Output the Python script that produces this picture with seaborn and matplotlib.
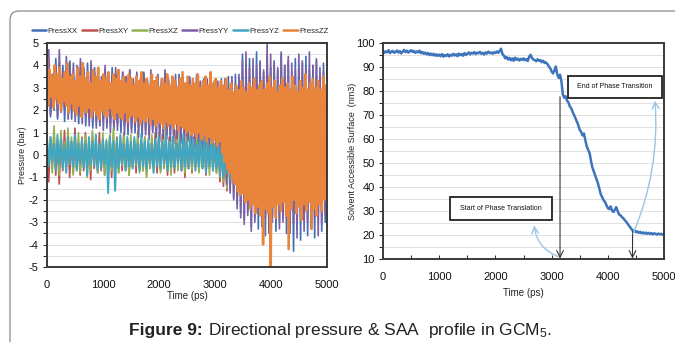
import numpy as np
import pandas as pd
import matplotlib
matplotlib.use("Agg")
import matplotlib.pyplot as plt
import seaborn as sns
from matplotlib.patches import FancyBboxPatch, Rectangle
from matplotlib.lines import Line2D
from matplotlib.ticker import MultipleLocator
from matplotlib.transforms import IdentityTransform

# ---------------- data ----------------
series_names = ["PressXX", "PressXY", "PressXZ", "PressYY", "PressYZ", "PressZZ"]
series_colors = ["#3f6fb6", "#c0504d", "#8db353", "#7b5ea3", "#40a6c2", "#e8843c"]

press_xx = [2.4, 4.1, 1.7, 3.6, 2.0, 4.3, 1.6, 3.8, 2.1, 4.0,
            1.5, 3.7, 1.9, 4.2, 1.6, 3.5, 1.8, 4.0, 1.4, 3.8,
            1.7, 3.6, 1.3, 4.1, 1.6, 3.4, 1.2, 3.9, 1.5, 3.7,
            1.3, 3.5, 1.6, 3.8, 1.2, 3.3, 1.4, 3.9, 1.1, 3.6,
            1.4, 3.4, 1.0, 3.7, 1.3, 3.5, 0.9, 3.8, 1.2, 3.3,
            1.0, 3.6, 1.2, 3.4, 0.8, 3.7, 1.1, 3.3, 0.9, 3.5,
            1.1, 3.2, 0.8, 3.6, 1.0, 3.4, 0.7, 3.8, 0.9, 3.3,
            0.6, 3.5, 0.9, 3.2, 0.7, 3.6, 0.5, 3.4, 0.8, 3.1,
            0.6, 3.5, 0.4, 3.3, 0.7, 3.6, 0.3, 3.2, 0.5, 3.4,
            0.2, 3.1, 0.4, 3.5, 0.0, 3.3, 0.2, 3.0, -0.3, 3.4,
            -0.7, 3.2, -1.1, 3.5, -1.5, 3.3, -1.9, 3.6, -2.2, 3.4,
            -2.6, 4.5, -2.9, 3.8, -2.5, 4.3, -3.2, 3.9, -2.8, 4.6,
            -3.3, 4.1, -2.9, 3.7, -3.6, 4.4, -3.1, 3.9, -2.7, 4.2,
            -3.4, 3.8, -3.0, 4.5, -2.8, 4.0, -3.5, 4.2, -3.1, 3.7,
            -4.3, 4.3, -3.3, 3.9, -3.8, 4.1, -2.9, 4.4, -3.6, 3.8,
            -3.2, 4.0, -3.7, 4.2, -2.9, 3.6, -3.4, 4.1, -3.0, 3.8]
press_yy = [2.0, 4.7, 1.8, 3.5, 2.2, 4.0, 1.7, 4.7, 1.9, 3.7,
            2.1, 4.4, 1.6, 3.8, 2.0, 4.1, 1.5, 3.6, 1.8, 4.3,
            1.4, 3.9, 1.7, 3.5, 1.3, 4.2, 1.6, 3.7, 1.2, 3.8,
            1.5, 3.4, 1.1, 4.0, 1.4, 3.6, 1.0, 3.5, 1.3, 3.9,
            1.1, 3.3, 1.4, 3.7, 0.9, 3.5, 1.2, 3.8, 1.0, 3.4,
            1.3, 3.7, 0.8, 3.3, 1.1, 3.6, 0.9, 3.4, 0.7, 3.8,
            1.0, 3.3, 0.8, 3.5, 0.6, 3.2, 0.9, 3.7, 0.7, 3.4,
            0.9, 3.1, 0.5, 3.6, 0.8, 3.3, 0.6, 3.5, 0.4, 3.2,
            0.7, 3.4, 0.5, 3.1, 0.3, 3.5, 0.6, 3.3, 0.2, 3.0,
            0.4, 3.4, 0.1, 3.2, 0.3, 3.0, -0.1, 3.3, -0.5, 3.1,
            -0.9, 3.4, -1.3, 3.1, -1.7, 3.5, -2.0, 3.2, -2.4, 3.6,
            -2.8, 4.2, -3.1, 4.6, -2.7, 3.9, -3.4, 4.3, -3.0, 4.0,
            -2.6, 4.2, -3.2, 3.8, -2.8, 5.0, -3.5, 4.5, -3.0, 4.1,
            -2.7, 3.9, -3.3, 4.6, -3.0, 4.0, -2.8, 4.4, -3.5, 4.1,
            -3.1, 3.8, -3.7, 4.5, -2.9, 4.2, -3.4, 3.9, -3.0, 4.6,
            -3.3, 4.0, -2.8, 4.3, -3.6, 3.9, -3.1, 3.7, -2.7, 3.4]
press_xy = [0.2, -1.2, 0.8, -0.6, 1.0, -0.9, 0.5, -1.3, 0.9, -0.7,
            1.1, -0.5, 0.7, -1.0, 0.6, -0.8, 1.2, -0.6, 0.4, -0.9,
            0.8, -0.7, 1.0, -0.5, 0.6, -1.1, 0.9, -0.6, 0.5, -0.8,
            1.0, -0.7, 0.7, -0.9, 0.4, -0.6, 0.9, -1.0, 0.6, -0.5,
            0.8, -0.8, 0.5, -0.7, 1.0, -0.6, 0.7, -0.9, 0.4, -0.5,
            0.6, -0.8, 0.9, -0.6, 0.5, -0.7, 0.8, -0.9, 0.4, -0.6,
            0.7, -0.5, 1.0, -0.8, 0.6, -0.7, 0.9, -0.6, 0.5, -0.9,
            0.8, -0.6, 0.5, -0.8, 1.1, -0.5, 0.7, -0.7, 0.6, -1.0,
            0.9, -0.6, 0.6, -0.8, 0.8, -0.5, 0.5, -0.7, 1.0, -0.6,
            0.7, -0.9, 0.5, -0.6, 0.8, -0.7, 0.4, -0.8, 0.6, -1.2,
            0.3, -1.4, 0.5, -1.6, 0.2, -1.3, 0.4, -1.5, 0.1, -1.1]
press_xz = [0.9, -0.4, 0.5, -0.8, 1.3, -0.6, 0.7, -0.9, 1.1, -0.5,
            0.6, -0.7, 1.2, -0.4, 0.8, -0.9, 0.5, -0.6, 1.0, -0.8,
            0.7, -0.5, 0.9, -1.0, 0.6, -0.7, 1.1, -0.4, 0.8, -0.8,
            0.5, -0.6, 1.0, -0.9, 0.7, -0.5, 0.9, -0.7, 1.2, -0.6,
            0.6, -0.8, 0.8, -0.5, 1.0, -0.7, 0.5, -0.9, 0.9, -0.6,
            0.7, -0.5, 1.1, -0.8, 0.6, -0.7, 0.8, -1.0, 0.5, -0.6,
            0.9, -0.7, 0.6, -0.5, 1.0, -0.8, 0.7, -0.6, 1.2, -0.7,
            0.6, -0.9, 0.8, -0.5, 0.7, -0.7, 1.0, -0.6, 0.5, -0.8,
            0.8, -0.6, 1.1, -0.7, 0.6, -0.5, 0.9, -0.8, 0.7, -0.6,
            1.0, -0.7, 0.6, -0.9, 0.8, -0.6, 0.5, -0.8, 0.7, -1.0,
            0.4, -1.2, 0.6, -1.5, 0.3, -1.1, 0.5, -1.3, 0.2, -0.9]
press_yz = [0.6, -0.5, 0.8, -0.3, 0.5, -0.7, 0.9, -0.4, 0.7, -0.6,
            0.4, -0.8, 0.8, -0.4, 0.6, -0.5, 0.9, -0.7, 0.5, -0.4,
            0.7, -0.6, 0.5, -0.9, 0.8, -0.4, 0.6, -0.5, 0.9, -0.7,
            0.5, -0.6, 0.7, -0.4, 0.6, -1.7, 0.8, -0.5, 0.6, -1.6,
            0.7, -0.6, 0.9, -0.4, 0.5, -0.7, 0.8, -0.5, 0.6, -0.6,
            0.8, -0.4, 0.5, -0.7, 0.9, -0.5, 0.6, -0.6, 0.7, -0.4,
            0.5, -0.8, 0.7, -0.5, 0.8, -0.6, 0.6, -0.4, 0.9, -0.7,
            0.6, -0.5, 0.8, -0.6, 0.5, -0.4, 0.7, -0.7, 0.9, -0.5,
            0.6, -0.6, 0.8, -0.4, 0.7, -0.7, 0.5, -0.5, 0.8, -0.6,
            0.7, -0.8, 0.6, -0.5, 0.8, -0.7, 0.5, -0.6, 0.7, -0.9,
            0.4, -1.0, 0.6, -0.8, 0.3, -1.1, 0.5, -0.9, 0.2, -0.7]
press_zz = [4.4, 2.2, 3.8, 2.6, 3.5, 2.1, 4.0, 2.5, 3.6, 2.3,
            3.9, 2.0, 3.4, 2.4, 3.7, 2.2, 4.1, 1.9, 3.5, 2.3,
            3.6, 2.0, 3.3, 1.8, 3.9, 2.2, 3.5, 1.7, 4.1, 2.0,
            3.4, 1.9, 3.7, 2.1, 3.2, 1.7, 3.8, 2.0, 3.5, 1.8,
            3.9, 1.6, 3.3, 2.0, 3.6, 1.8, 3.4, 1.7, 3.7, 2.1,
            3.2, 1.8, 3.6, 1.6, 3.4, 1.9, 3.8, 1.7, 3.3, 1.6,
            3.5, 1.9, 3.2, 1.5, 3.6, 1.7, 3.4, 1.8, 3.1, 1.5,
            3.5, 1.7, 3.3, 1.4, 3.7, 1.6, 3.2, 1.5, 3.4, 1.7,
            3.1, 1.4, 3.6, 1.6, 3.3, 1.3, 3.5, 1.5, 3.0, 1.4,
            3.4, 1.2, 3.2, 1.5, 3.6, 1.3, 3.1, 1.4, 3.5, 1.2,
            3.3, 1.4, 3.0, 1.1, 3.4, 1.3, 3.7, 1.2, 3.2, 1.0,
            3.5, 1.1, 3.1, 0.9, 3.4, 1.0, 3.2, 0.8, 3.6, 1.0,
            3.0, 0.7, 3.3, 0.9, 3.5, 0.6, 3.1, 0.8, 3.7, 0.5,
            3.2, 0.7, 3.4, 0.4, 3.0, 0.6, 3.3, 0.1, 3.1, -0.3,
            3.4, -0.6, 2.9, -0.8, 3.2, -1.1, 2.8, -1.3, 3.1, -1.6,
            2.9, -1.8, 3.3, -1.7, 3.0, -2.1, 2.8, -2.0, 3.2, -2.4,
            3.0, -2.2, 3.4, -2.6, 2.9, -2.3, 3.1, -2.7, 3.3, -4.0,
            2.9, -2.4, 3.2, -2.6, 3.5, -5.0, 3.0, -2.3, 3.3, -2.8,
            2.8, -2.2, 3.1, -2.5, 3.4, -2.1, 3.0, -2.7, 3.2, -4.2,
            2.9, -2.4, 3.5, -2.0, 3.1, -2.6, 2.8, -2.3, 3.3, -2.9,
            3.0, -2.2, 3.6, -2.5, 2.9, -2.1, 3.2, -3.3, 3.4, -2.4,
            3.0, -2.7, 3.3, -2.2, 2.9, -2.5, 3.5, -2.0, 3.1, 2.9]

time_diag = np.linspace(0, 5000, len(press_xx))
time_off = np.linspace(0, 3400, len(press_xy))
time_zz = np.linspace(0, 5000, len(press_zz))

saa = [96.8, 95.9, 96.5, 96.1, 97.0, 95.8, 96.4, 96.7, 95.9, 96.3,
       96.9, 96.0, 96.6, 95.7, 96.4, 97.1, 96.2, 96.8, 96.0, 96.5,
       97.0, 96.3, 96.7, 95.9, 96.5, 96.1, 96.8, 95.8, 96.3, 95.5,
       96.0, 95.3, 95.8, 95.0, 95.6, 94.9, 95.5, 94.7, 95.3, 94.6,
       95.2, 94.5, 95.4, 94.3, 95.0, 94.6, 95.3, 94.4, 95.1, 94.7,
       95.5, 94.8, 95.3, 94.5, 95.6, 94.9, 95.4, 94.7, 95.8, 95.0,
       95.5, 96.1, 95.3, 95.9, 95.6, 96.2, 95.4, 96.0, 95.7, 96.3,
       95.5, 95.9, 95.2, 96.1, 95.6, 96.4, 95.8, 96.0, 95.5, 96.2,
       95.8, 96.5, 95.9, 96.6, 97.6, 95.4, 94.8, 93.6, 94.2, 93.1,
       93.8, 92.8, 93.6, 92.6, 93.9, 93.0, 93.5, 92.7, 93.4, 92.9,
       93.6, 92.8, 93.3, 92.5, 94.2, 95.1, 93.8, 93.1, 92.9, 92.4,
       93.2, 92.6, 92.9, 92.0, 92.6, 91.7, 91.9, 91.2, 90.3, 89.5,
       88.2, 87.3, 88.6, 90.2, 87.0, 85.5, 86.8, 84.0, 78.5, 77.2,
       77.8, 76.0, 75.2, 73.5, 72.8, 71.2, 70.0, 68.6, 67.2, 65.8,
       63.8, 63.0, 61.5, 62.3, 59.5, 57.0, 55.5, 54.2, 51.0, 48.2,
       46.5, 44.8, 43.0, 41.5, 39.2, 37.0, 35.8, 34.5, 33.8, 32.5,
       31.2, 30.8, 31.9, 30.2, 29.6, 30.5, 31.6, 30.0, 28.6, 28.2,
       27.5, 27.0, 26.2, 25.6, 24.8, 23.9, 23.2, 22.3, 21.6, 21.9,
       21.2, 21.5, 20.9, 21.3, 20.7, 21.1, 20.6, 21.0, 20.5, 20.9,
       20.4, 20.8, 20.3, 20.7, 20.5, 20.2, 20.6, 20.3, 20.5, 20.1,
       20.4]
time_saa = np.linspace(0, 5000, len(saa))

press_ticks = [-5, -4, -3, -2, -1, 0, 1, 2, 3, 4, 5]
saa_ticks = [10, 20, 30, 40, 50, 60, 70, 80, 90, 100]
time_ticks = [0, 1000, 2000, 3000, 4000, 5000]

# ---------------- style ----------------
sns.set_theme(style="white")
plt.rcParams['font.family'] = ['Liberation Sans', 'DejaVu Sans']
plt.rcParams['axes.unicode_minus'] = False
plt.rcParams['mathtext.fontset'] = 'custom'
plt.rcParams['mathtext.rm'] = 'Liberation Sans'
plt.rcParams['mathtext.it'] = 'Liberation Sans:italic'
plt.rcParams['mathtext.bf'] = 'Liberation Sans:bold'

W, H = 675, 342
fig = plt.figure(figsize=(W / 100, H / 100), dpi=100)
fig.patch.set_facecolor("white")

frame = FancyBboxPatch((10, -30), 720, 342 - 11 + 30,
                       boxstyle="round,pad=0,rounding_size=9",
                       transform=IdentityTransform(), fill=False,
                       edgecolor="#8a8a8a", lw=0.9, zorder=0)
fig.patches.append(frame)

ax1 = fig.add_axes([47 / W, 1 - 267 / H, 280 / W, 224 / H])
ax2 = fig.add_axes([383 / W, 1 - 259 / H, 281 / W, 216 / H])

# ---------------- left: pressures ----------------
frames = []
series_data = {
    "PressXX": (time_diag, press_xx),
    "PressXY": (time_off, press_xy),
    "PressXZ": (time_off, press_xz),
    "PressYY": (time_diag, press_yy),
    "PressYZ": (time_off, press_yz),
    "PressZZ": (time_zz, press_zz),
}
for name in series_names:
    t, v = series_data[name]
    frames.append(pd.DataFrame({"time": t, "pressure": v, "series": name}))
df_p = pd.concat(frames, ignore_index=True)

widths = {"PressXX": 1.2, "PressXY": 1.2, "PressXZ": 1.2,
          "PressYY": 1.2, "PressYZ": 1.4, "PressZZ": 1.8}
for name, col in zip(series_names, series_colors):
    sns.lineplot(data=df_p[df_p["series"] == name], x="time", y="pressure",
                 color=col, estimator=None, sort=False, lw=widths[name],
                 legend=False, ax=ax1)

ax1.set_xlim(0, 5000)
ax1.set_ylim(-5, 5)
ax1.set_yticks(press_ticks)
ax1.yaxis.set_minor_locator(MultipleLocator(0.5))
ax1.set_xticks(time_ticks)
ax1.set_axisbelow(True)
ax1.grid(True, which="both", axis="y", color="#dcdcdc", lw=0.6)
ax1.grid(False, axis="x")
ax1.tick_params(axis="y", which="both", left=True, length=3, width=0.8,
                color="#333333", labelsize=8, pad=3, labelcolor="#111111")
ax1.tick_params(axis="x", bottom=False, length=0, labelsize=8, pad=9,
                labelcolor="#111111")
for s in ax1.spines.values():
    s.set_color("#3a3a3a")
    s.set_linewidth(1.4)
ax1.set_xlabel("Time (ps)", fontsize=7, labelpad=1, color="#222222")
ax1.set_ylabel("Pressure (bar)", fontsize=6.5, color="#222222")
ax1.yaxis.set_label_coords(-0.072, 0.5)

handles = [Line2D([0], [0], color=c, lw=1.8) for c in series_colors]
ax1.legend(handles, series_names, loc="center", bbox_to_anchor=(0.475, 1 + 12 / 224),
           ncol=6, frameon=False, fontsize=5.6, handlelength=1.9,
           handletextpad=0.15, columnspacing=0.55, borderaxespad=0, borderpad=0)

# ---------------- right: SAA ----------------
df_s = pd.DataFrame({"time": time_saa, "saa": saa})
sns.lineplot(data=df_s, x="time", y="saa", color="#3d74bb", lw=1.8,
             estimator=None, ax=ax2)
ax2.set_xlim(0, 5000)
ax2.set_ylim(10, 100)
ax2.set_yticks(saa_ticks)
ax2.yaxis.set_minor_locator(MultipleLocator(5))
ax2.set_xticks(time_ticks)
ax2.xaxis.set_minor_locator(MultipleLocator(500))
ax2.set_axisbelow(True)
ax2.grid(True, which="both", axis="y", color="#dcdcdc", lw=0.6)
ax2.grid(False, axis="x")
ax2.tick_params(axis="y", which="both", left=True, length=3, width=0.8,
                color="#333333", labelsize=8, pad=3, labelcolor="#111111")
ax2.tick_params(axis="x", which="both", bottom=True, direction="in", length=3,
                width=0.8, color="#333333", labelsize=8, pad=9, labelcolor="#111111")
for s in ax2.spines.values():
    s.set_color("#3a3a3a")
    s.set_linewidth(1.4)
ax2.set_xlabel("Time (ps)", fontsize=7, labelpad=5, color="#222222")
ax2.set_ylabel("Solvent Accessible Surface  (nm3)", fontsize=6.5, color="#222222")
ax2.yaxis.set_label_coords(-0.0925, 0.5)

ax2.add_patch(Rectangle((3292, 77.1), 1672, 9.2, fill=True, facecolor="white",
                        edgecolor="#222222", lw=1.3, zorder=5))
ax2.text(4128, 81.7, "End of Phase Transition", ha="center", va="center",
         fontsize=5, zorder=6, color="#111111")
ax2.add_patch(Rectangle((1192, 26.2), 1815, 9.6, fill=True, facecolor="white",
                        edgecolor="#222222", lw=1.3, zorder=5))
ax2.text(2100, 31.0, "Start of Phase Translation", ha="center", va="center",
         fontsize=5, zorder=6, color="#111111")

ax2.annotate("", xy=(3150, 10.2), xytext=(3150, 77.6),
             arrowprops=dict(arrowstyle="->", color="#333333", lw=0.8,
                             shrinkA=0, shrinkB=0))
ax2.annotate("", xy=(4440, 10.2), xytext=(4440, 21.5),
             arrowprops=dict(arrowstyle="->", color="#333333", lw=0.8,
                             shrinkA=0, shrinkB=0))
ax2.annotate("", xy=(2690, 24), xytext=(3120, 11),
             arrowprops=dict(arrowstyle="->", color="#9dc3e6", lw=1.0,
                             connectionstyle="arc3,rad=-0.3",
                             shrinkA=0, shrinkB=0))
ax2.annotate("", xy=(4840, 76), xytext=(4450, 20.5),
             arrowprops=dict(arrowstyle="->", color="#9dc3e6", lw=1.0,
                             connectionstyle="arc3,rad=0.12",
                             shrinkA=0, shrinkB=0))

# ---------------- caption ----------------
renderer = fig.canvas.get_renderer()
cap_y = 1 - 331 / H
t1 = fig.text(129 / W, cap_y, "Figure 9:", ha="left", va="center",
              fontsize=12.5, fontweight="bold", color="#222222")
bb = t1.get_window_extent(renderer)
fig.text((bb.x1 + 5) / W, cap_y, "Directional pressure & SAA  profile in GCM$_5$.",
         ha="left", va="center", fontsize=12.5, color="#222222")

fig.savefig("out.png", dpi=100)
